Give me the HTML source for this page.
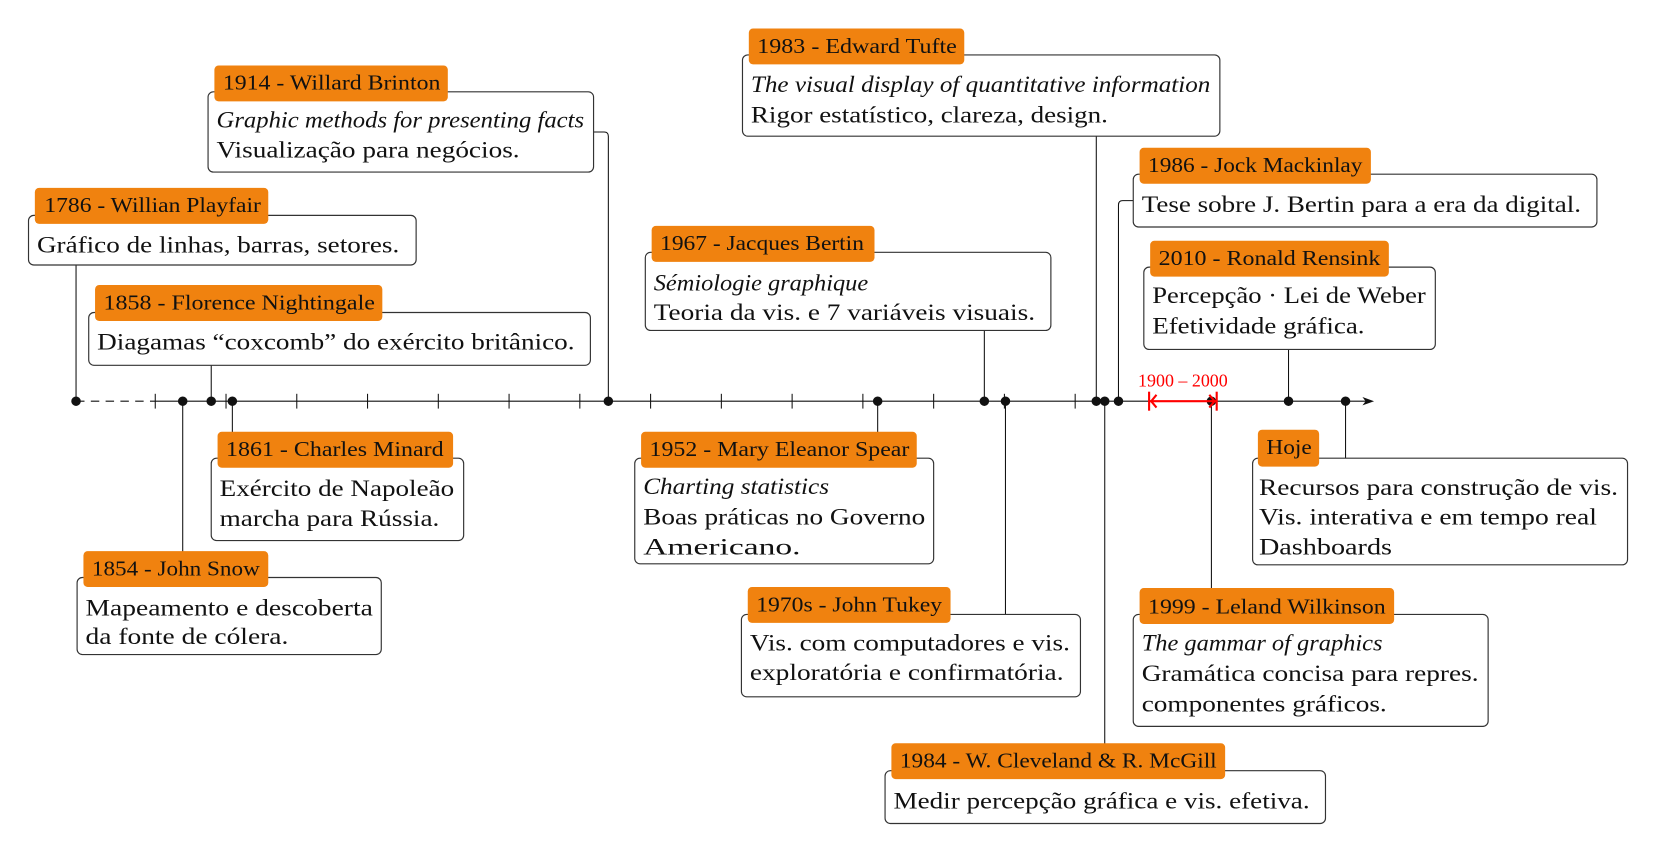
<!DOCTYPE html>
<html><head><meta charset="utf-8"><style>
html,body{margin:0;padding:0;background:#fff;}
svg{display:block;}
text{font-family:"Liberation Serif",serif;fill:#111;}
.b{font-size:22px;}
.l{font-size:20px;}
.i{font-style:italic;}
.box{fill:#fff;stroke:#333;stroke-width:1.1;}
.lab{fill:#F0820F;}
.ln{stroke:#111;stroke-width:1;fill:none;}
</style></head><body>
<svg width="1655" height="852" viewBox="0 0 1567 807" preserveAspectRatio="none" xmlns="http://www.w3.org/2000/svg">
<line x1="72" y1="380" x2="147" y2="380" stroke="#111" stroke-width="1" stroke-dasharray="8,6"/>
<line x1="147" y1="380" x2="1296" y2="380" stroke="#111" stroke-width="1"/>
<path d="M1301 380 L1290 376 L1293 380 L1290 384 Z" fill="#111"/>
<g stroke="#111" stroke-width="1">
<line x1="147" y1="373" x2="147" y2="387"/><line x1="214" y1="373" x2="214" y2="387"/>
<line x1="281" y1="373" x2="281" y2="387"/><line x1="348" y1="373" x2="348" y2="387"/>
<line x1="415" y1="373" x2="415" y2="387"/><line x1="482" y1="373" x2="482" y2="387"/>
<line x1="549" y1="373" x2="549" y2="387"/><line x1="616" y1="373" x2="616" y2="387"/>
<line x1="683" y1="373" x2="683" y2="387"/><line x1="750" y1="373" x2="750" y2="387"/>
<line x1="817" y1="373" x2="817" y2="387"/><line x1="884" y1="373" x2="884" y2="387"/>
<line x1="951" y1="373" x2="951" y2="387"/><line x1="1018" y1="373" x2="1018" y2="387"/>
</g>
<g class="ln">
<line x1="72" y1="251" x2="72" y2="380"/>
<line x1="200" y1="346" x2="200" y2="380"/>
<path d="M562 125 L572 125 Q576 125 576 129 L576 380"/>
<line x1="220" y1="380" x2="220" y2="434"/>
<line x1="173" y1="380" x2="173" y2="547"/>
<line x1="1038" y1="129" x2="1038" y2="380"/>
<line x1="932" y1="313" x2="932" y2="380"/>
<path d="M1073 190 L1063 190 Q1059 190 1059 194 L1059 380"/>
<line x1="1220" y1="331" x2="1220" y2="380"/>
<line x1="831" y1="380" x2="831" y2="434"/>
<line x1="952" y1="380" x2="952" y2="582"/>
<line x1="1046" y1="380" x2="1046" y2="730"/>
<line x1="1147" y1="380" x2="1147" y2="582"/>
<line x1="1274" y1="380" x2="1274" y2="434"/>
</g>
<g fill="#111">
<circle cx="72" cy="380" r="4.5"/><circle cx="173" cy="380" r="4.5"/><circle cx="200" cy="380" r="4.5"/>
<circle cx="220" cy="380" r="4.5"/><circle cx="576" cy="380" r="4.5"/><circle cx="831" cy="380" r="4.5"/>
<circle cx="932" cy="380" r="4.5"/><circle cx="952" cy="380" r="4.5"/><circle cx="1038" cy="380" r="4.5"/>
<circle cx="1046" cy="380" r="4.5"/><circle cx="1059" cy="380" r="4.5"/><circle cx="1147" cy="380" r="4.5"/>
<circle cx="1220" cy="380" r="4.5"/><circle cx="1274" cy="380" r="4.5"/>
</g>
<g stroke="#f00" stroke-width="2" fill="none">
<line x1="1088" y1="380" x2="1152" y2="380"/>
<line x1="1088" y1="371" x2="1088" y2="389"/><line x1="1152" y1="371" x2="1152" y2="389"/>
<path d="M1095 374 L1090 380 L1095 386"/><path d="M1145 374 L1150 380 L1145 386"/>
</g>
<text x="1120" y="366" text-anchor="middle" style="font-size:17px;fill:#f00">1900 – 2000</text>

<rect class="box" x="27" y="204" width="367" height="47" rx="5"/>
<rect class="lab" x="33" y="178" width="221" height="34" rx="4"/>
<text class="l" x="42" y="201" textLength="205" lengthAdjust="spacingAndGlyphs">1786 - Willian Playfair</text>
<text class="b" x="35" y="239" textLength="343" lengthAdjust="spacingAndGlyphs">Gráfico de linhas, barras, setores.</text>

<rect class="box" x="84" y="296" width="475" height="50" rx="5"/>
<rect class="lab" x="90" y="270" width="272" height="34" rx="4"/>
<text class="l" x="98" y="293" textLength="257" lengthAdjust="spacingAndGlyphs">1858 - Florence Nightingale</text>
<text class="b" x="92" y="331" textLength="452" lengthAdjust="spacingAndGlyphs">Diagamas “coxcomb” do exército britânico.</text>

<rect class="box" x="197" y="87" width="365" height="76" rx="5"/>
<rect class="lab" x="203" y="62" width="221" height="34" rx="4"/>
<text class="l" x="211" y="85" textLength="206" lengthAdjust="spacingAndGlyphs">1914 - Willard Brinton</text>
<text class="b i" x="205" y="121" textLength="348" lengthAdjust="spacingAndGlyphs">Graphic methods for presenting facts</text>
<text class="b" x="205" y="149" textLength="287" lengthAdjust="spacingAndGlyphs">Visualização para negócios.</text>

<rect class="box" x="200" y="434" width="239" height="78" rx="5"/>
<rect class="lab" x="206" y="409" width="223" height="34" rx="4"/>
<text class="l" x="214" y="432" textLength="206" lengthAdjust="spacingAndGlyphs">1861 - Charles Minard</text>
<text class="b" x="208" y="470" textLength="222" lengthAdjust="spacingAndGlyphs">Exército de Napoleão</text>
<text class="b" x="208" y="498" textLength="208" lengthAdjust="spacingAndGlyphs">marcha para Rússia.</text>

<rect class="box" x="73" y="547" width="288" height="73" rx="5"/>
<rect class="lab" x="79" y="522" width="175" height="34" rx="4"/>
<text class="l" x="87" y="545" textLength="159" lengthAdjust="spacingAndGlyphs">1854 - John Snow</text>
<text class="b" x="81" y="583" textLength="272" lengthAdjust="spacingAndGlyphs">Mapeamento e descoberta</text>
<text class="b" x="81" y="610" textLength="192" lengthAdjust="spacingAndGlyphs">da fonte de cólera.</text>

<rect class="box" x="703" y="52" width="452" height="77" rx="5"/>
<rect class="lab" x="709" y="27" width="204" height="34" rx="4"/>
<text class="l" x="717" y="50" textLength="189" lengthAdjust="spacingAndGlyphs">1983 - Edward Tufte</text>
<text class="b i" x="711" y="87" textLength="435" lengthAdjust="spacingAndGlyphs">The visual display of quantitative information</text>
<text class="b" x="711" y="116" textLength="338" lengthAdjust="spacingAndGlyphs">Rigor estatístico, clareza, design.</text>

<rect class="box" x="611" y="239" width="384" height="74" rx="5"/>
<rect class="lab" x="617" y="214" width="211" height="34" rx="4"/>
<text class="l" x="625" y="237" textLength="193" lengthAdjust="spacingAndGlyphs">1967 - Jacques Bertin</text>
<text class="b i" x="619" y="275" textLength="203" lengthAdjust="spacingAndGlyphs">Sémiologie graphique</text>
<text class="b" x="619" y="303" textLength="361" lengthAdjust="spacingAndGlyphs">Teoria da vis. e 7 variáveis visuais.</text>

<rect class="box" x="1073" y="165" width="439" height="50" rx="5"/>
<rect class="lab" x="1079" y="140" width="219" height="34" rx="4"/>
<text class="l" x="1087" y="163" textLength="203" lengthAdjust="spacingAndGlyphs">1986 - Jock Mackinlay</text>
<text class="b" x="1081" y="201" textLength="416" lengthAdjust="spacingAndGlyphs">Tese sobre J. Bertin para a era da digital.</text>

<rect class="box" x="1083" y="253" width="276" height="78" rx="5"/>
<rect class="lab" x="1089" y="228" width="226" height="34" rx="4"/>
<text class="l" x="1097" y="251" textLength="210" lengthAdjust="spacingAndGlyphs">2010 - Ronald Rensink</text>
<text class="b" x="1091" y="287" textLength="259" lengthAdjust="spacingAndGlyphs">Percepção · Lei de Weber</text>
<text class="b" x="1091" y="316" textLength="201" lengthAdjust="spacingAndGlyphs">Efetividade gráfica.</text>

<rect class="box" x="601" y="434" width="283" height="100" rx="5"/>
<rect class="lab" x="607" y="409" width="261" height="34" rx="4"/>
<text class="l" x="615" y="432" textLength="246" lengthAdjust="spacingAndGlyphs">1952 - Mary Eleanor Spear</text>
<text class="b i" x="609" y="468" textLength="176" lengthAdjust="spacingAndGlyphs">Charting statistics</text>
<text class="b" x="609" y="497" textLength="267" lengthAdjust="spacingAndGlyphs">Boas práticas no Governo</text>
<text class="b" x="609" y="525" textLength="149" lengthAdjust="spacingAndGlyphs">Americano.</text>

<rect class="box" x="702" y="582" width="321" height="78" rx="5"/>
<rect class="lab" x="708" y="556" width="192" height="34" rx="4"/>
<text class="l" x="716" y="579" textLength="176" lengthAdjust="spacingAndGlyphs">1970s - John Tukey</text>
<text class="b" x="710" y="616" textLength="303" lengthAdjust="spacingAndGlyphs">Vis. com computadores e vis.</text>
<text class="b" x="710" y="644" textLength="297" lengthAdjust="spacingAndGlyphs">exploratória e confirmatória.</text>

<rect class="box" x="838" y="730" width="417" height="50" rx="5"/>
<rect class="lab" x="844" y="704" width="316" height="34" rx="4"/>
<text class="l" x="852" y="727" textLength="300" lengthAdjust="spacingAndGlyphs">1984 - W. Cleveland &amp; R. McGill</text>
<text class="b" x="846" y="766" textLength="394" lengthAdjust="spacingAndGlyphs">Medir percepção gráfica e vis. efetiva.</text>

<rect class="box" x="1073" y="582" width="336" height="106" rx="5"/>
<rect class="lab" x="1079" y="557" width="241" height="34" rx="4"/>
<text class="l" x="1087" y="581" textLength="225" lengthAdjust="spacingAndGlyphs">1999 - Leland Wilkinson</text>
<text class="b i" x="1081" y="616" textLength="228" lengthAdjust="spacingAndGlyphs">The gammar of graphics</text>
<text class="b" x="1081" y="645" textLength="319" lengthAdjust="spacingAndGlyphs">Gramática concisa para repres.</text>
<text class="b" x="1081" y="674" textLength="232" lengthAdjust="spacingAndGlyphs">componentes gráficos.</text>

<rect class="box" x="1186" y="434" width="355" height="101" rx="5"/>
<rect class="lab" x="1191" y="407" width="58" height="35" rx="4"/>
<text class="l" x="1199" y="430" textLength="43" lengthAdjust="spacingAndGlyphs">Hoje</text>
<text class="b" x="1192" y="469" textLength="340" lengthAdjust="spacingAndGlyphs">Recursos para construção de vis.</text>
<text class="b" x="1192" y="497" textLength="320" lengthAdjust="spacingAndGlyphs">Vis. interativa e em tempo real</text>
<text class="b" x="1192" y="525" textLength="126" lengthAdjust="spacingAndGlyphs">Dashboards</text>
</svg>
</body></html>
